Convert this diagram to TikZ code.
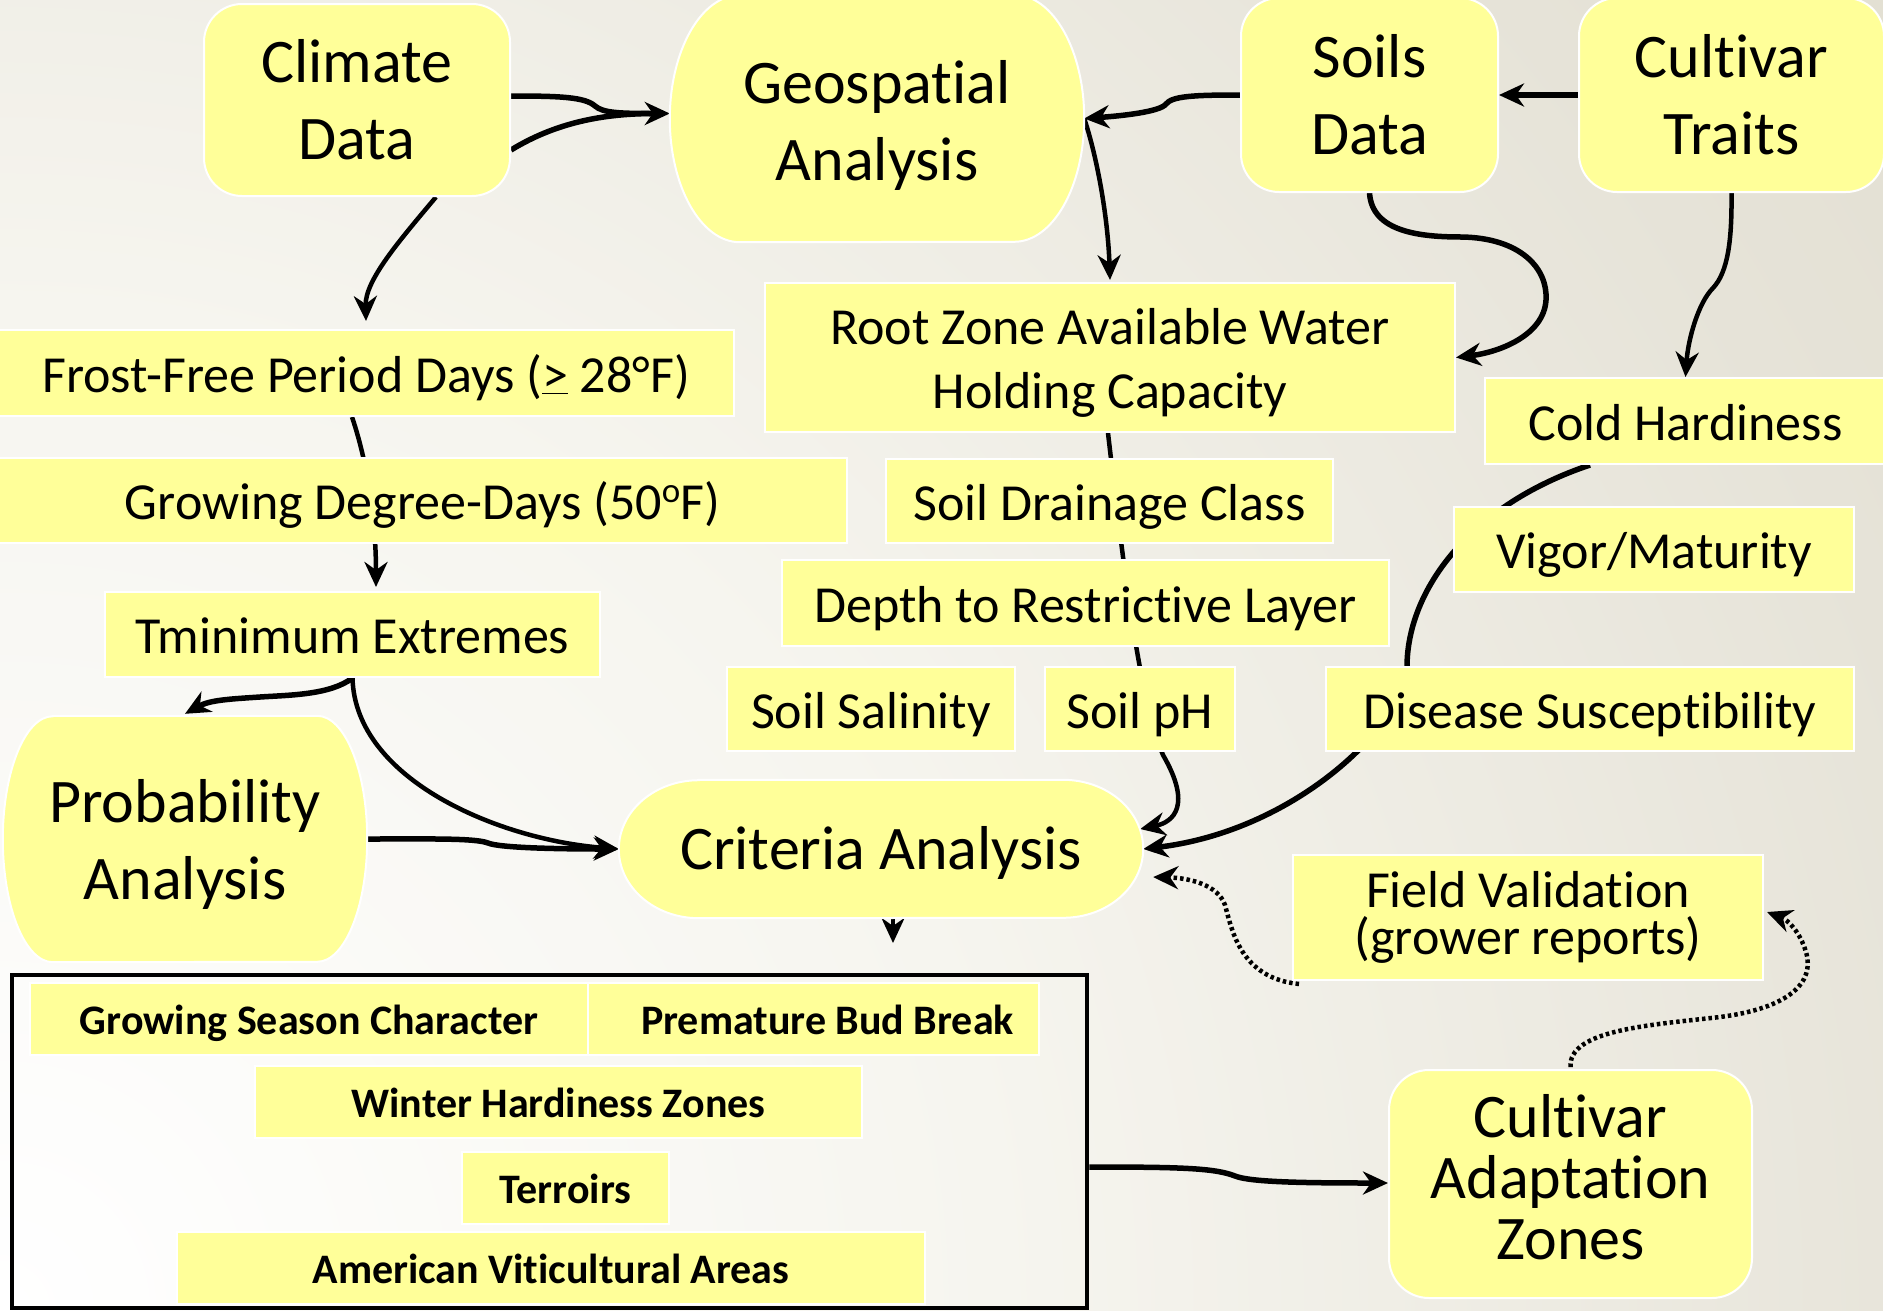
\documentclass[tikz,border=0pt]{standalone}
\usepackage{fontspec}
\setmainfont{Carlito}[Ligatures=NoCommon]
\usetikzlibrary{arrows.meta}
\definecolor{boxy}{HTML}{FFFF99}
\definecolor{bgA}{HTML}{F6F5EF}
\definecolor{bgB}{HTML}{E6E3D8}
\definecolor{bgC}{HTML}{DCD8C8}
\definecolor{bgD}{HTML}{D6D0BE}
\pgfdeclareradialshading{bgshade}{\pgfpoint{0bp}{0bp}}{color(0bp)=(white); color(10.4bp)=(bgA); color(20.8bp)=(bgB); color(31.25bp)=(bgC); color(41.7bp)=(bgD); color(50bp)=(bgD)}
\pgfdeclarelayer{bg}\pgfdeclarelayer{edges}\pgfdeclarelayer{shapes}
\pgfsetlayers{bg,edges,shapes,main}
\newcommand{\ellshape}[3]{%
  \begin{pgfonlayer}{shapes}
  \path[fill=boxy, draw=white, line width=2pt] ([xshift=#2]#1.north west) -- ([xshift=-#2]#1.north east)
    arc[start angle=90,end angle=-90,x radius=#2,y radius=#3] -- ([xshift=#2]#1.south west)
    arc[start angle=270,end angle=90,x radius=#2,y radius=#3] -- cycle;
  \end{pgfonlayer}}
\tikzset{
  box/.style={fill=boxy, draw=white, line width=2pt, inner sep=0pt, align=center},
  rbox/.style={box, rounded corners=38pt},
  ebox/.style={inner sep=0pt, align=center},
  big/.style={font=\fontsize{62}{77}\selectfont},
  bigone/.style={font=\fontsize{62}{77}\selectfont, text height=40pt, text depth=0pt},
  med/.style={font=\fontsize{52}{64}\selectfont},
  medone/.style={font=\fontsize{52}{64}\selectfont, text height=38pt, text depth=0pt},
  sml/.style={font=\fontsize{42}{50}\selectfont\bfseries, text height=30pt, text depth=0pt},
  tip/.style={-{Stealth[length=25pt,width=23pt,inset=8pt]}},
  conn/.style={line width=4.5pt, tip},
  thick conn/.style={line width=5.5pt, tip},
  plain/.style={line width=5.5pt},
  dots/.style={line width=4.5pt, dash pattern=on 3.5pt off 3pt, tip},
}
\begin{document}
\begin{tikzpicture}[x=1pt,y=-1pt]
\useasboundingbox (0,0) rectangle (1883,1310);
\begin{pgfonlayer}{bg}
  \clip (0,0) rectangle (1883,1310);
  \shade[shading=bgshade] (0,1310) circle (2400pt);
\end{pgfonlayer}

% top row
\node[rbox,big,minimum width=306,minimum height=192] (climate) at (357,100) {Climate\\Data};
\node[ebox,big,minimum width=414,minimum height=247] (geo) at (877,118.5) {\rule{0pt}{56pt}Geospatial\\Analysis};
\ellshape{geo}{70pt}{123.5pt}
\node[rbox,big,minimum width=257,minimum height=194] (soils) at (1369.5,95) {Soils\\Data};
\node[rbox,big,minimum width=305,minimum height=194] (traits) at (1731.5,95) {Cultivar\\Traits};

% left column
\node[box,medone,minimum width=736,minimum height=86] (frost) at (366,373) {Frost-Free Period Days (\underline{>} 28°F)};
\node[box,medone,minimum width=849,minimum height=85] (gdd) at (422.5,500.5) {Growing Degree-Days (50\raisebox{17pt}{\fontsize{35}{35}\selectfont o}F)};
\node[box,medone,minimum width=495,minimum height=85] (tmin) at (352.5,634.5) {Tminimum Extremes};
\node[ebox,big,minimum width=364,minimum height=246] (prob) at (185,839) {\rule{0pt}{54pt}Probability\\Analysis};
\ellshape{prob}{50pt}{123pt}

% soil column
\node[box,med,minimum width=690,minimum height=149] (rootzone) at (1110,357.5) {\rule{0pt}{47pt}Root Zone Available Water\\Holding Capacity};
\node[box,medone,minimum width=447,minimum height=84] (drain) at (1109.5,501) {Soil Drainage Class};
\node[box,medone,minimum width=607,minimum height=86] (depth) at (1085.5,603) {Depth to Restrictive Layer};
\node[box,medone,minimum width=288,minimum height=84] (salin) at (871,709) {Soil Salinity};
\node[box,medone,minimum width=190,minimum height=84] (ph) at (1140,709) {Soil pH};

% cultivar column
\node[box,medone,minimum width=401,minimum height=86] (cold) at (1685.5,421) {Cold Hardiness};
\node[box,medone,minimum width=400,minimum height=85] (vigor) at (1654,549.5) {Vigor/Maturity};
\node[box,medone,minimum width=528,minimum height=84] (disease) at (1590,709) {Disease Susceptibility};

% criteria
\node[ebox,bigone,minimum width=524,minimum height=138] (crit) at (881,849) {Criteria Analysis};
\ellshape{crit}{80pt}{69pt}
\node[box,font=\fontsize{52}{47}\selectfont,minimum width=470,minimum height=125] (field) at (1528,917.5) {Field Validation\\(grower reports)};
\node[rbox,font=\fontsize{62}{61}\selectfont,rounded corners=40pt,minimum width=363,minimum height=228] (caz) at (1570.5,1184) {Cultivar\\Adaptation\\Zones\rule[-14pt]{0pt}{14pt}};

% bottom group
\node[draw=black,line width=4.5pt,inner sep=0pt,minimum width=1075,minimum height=333] (outer) at (549.5,1141.5) {};
\node[box,sml,minimum width=558,minimum height=72] (gsc) at (309,1019) {Growing Season Character};
\node[box,sml,minimum width=451,minimum height=72] (pbb) at (813.5,1019) {\hspace*{28pt}Premature Bud Break};
\node[box,sml,minimum width=607,minimum height=72] (whz) at (558.5,1102) {Winter Hardiness Zones};
\node[box,sml,minimum width=207,minimum height=72] (terr) at (565.5,1188) {Terroirs};
\node[box,sml,minimum width=748,minimum height=72] (ava) at (551,1268) {American Viticultural Areas};
\coordinate (critout) at (893,943);

\begin{pgfonlayer}{edges}
% climate -> geospatial (two strands)
\draw[thick conn] ([yshift=4pt]climate.east) .. controls (560,96) and (585,97) .. (595,106)
   .. controls (603,113) and (620,113.5) .. ([yshift=5pt]geo.west);
\draw[plain,shorten >=14pt] ([yshift=-50pt]climate.east) .. controls (560,120) and (610,113.5) .. ([yshift=5pt]geo.west);
% climate -> frost
\draw[conn] ([xshift=79pt]climate.south) .. controls (400,240) and (365,280) .. ([yshift=8pt]frost.north);
% frost -> tmin (behind GDD)
\draw[conn] ([xshift=-14pt]frost.south) .. controls (370,470) and (376,530) .. ([xshift=23.5pt,yshift=4pt]tmin.north);
% tmin -> prob
\draw[thick conn] (tmin.south) .. controls (330,695) and (290,695) .. (260,697)
   .. controls (230,699) and (210,700) .. ([yshift=2pt]prob.north);
% tmin -> criteria
\draw[conn] (tmin.south) .. controls (355,780) and (500,840) .. (crit.west);
% prob -> criteria
\draw[thick conn] (prob.east) .. controls (430,839) and (475,838) .. (488,843)
   .. controls (500,848) and (560,849) .. (crit.west);
% soils -> geospatial
\draw[thick conn] (soils.west) .. controls (1195,95) and (1172,96) .. (1166,104)
   .. controls (1160,112) and (1120,116) .. (geo.east);
% traits -> soils
\draw[thick conn] (traits.west) -- (soils.east);
% geo -> root zone
\draw[conn] (geo.east) .. controls (1098,160) and (1108,220) .. ([yshift=2pt]rootzone.north);
% soils -> root zone
\draw[thick conn] (soils.south) .. controls (1372,232) and (1420,237) .. (1462,237)
   .. controls (1520,238) and (1548,268) .. (1546,300)
   .. controls (1544,335) and (1500,352) .. (rootzone.east);
% traits -> cold
\draw[conn] (traits.south) .. controls (1732,240) and (1728,272) .. (1713,288)
   .. controls (1698,303) and (1688,340) .. (cold.north);
% root zone -> criteria (behind soil boxes)
\draw[conn] ([xshift=-2pt]rootzone.south) .. controls (1125,580) and (1140,700) .. (1163,755)
   .. controls (1192,805) and (1174,822) .. ([xshift=-3pt,yshift=20pt]crit.east);
% cold -> criteria (behind vigor and disease)
\draw[thick conn] ([xshift=-95.5pt]cold.south) .. controls (1470,505) and (1407,590) .. (1407,667)
   .. controls (1407,720) and (1300,830) .. (crit.east);
% criteria -> results
\draw[conn] ([xshift=12pt]crit.south) -- (critout);
% results -> cultivar adaptation zones
\draw[thick conn] ([yshift=-25.5pt]outer.east) .. controls (1180,1167) and (1215,1168) .. (1235,1176)
   .. controls (1250,1182) and (1300,1183) .. ([yshift=1pt]caz.west);
% dotted feedback
\draw[dots] ([xshift=7pt,yshift=-3pt]field.south west) .. controls (1240,978) and (1232,930) .. (1225,905)
   .. controls (1218,885) and (1190,878) .. ([xshift=10pt,yshift=-28pt]crit.east);
\draw[dots] ([yshift=2pt]caz.north) .. controls (1568,1030) and (1650,1025) .. (1720,1017)
   .. controls (1790,1008) and (1815,982) .. (1806,952)
   .. controls (1800,932) and (1788,920) .. ([xshift=3pt,yshift=5.5pt]field.east);
\end{pgfonlayer}
\end{tikzpicture}
\end{document}
